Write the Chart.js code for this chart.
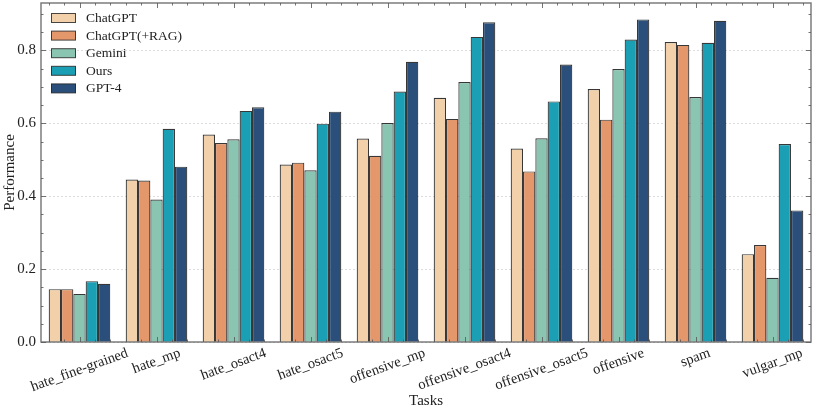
<!DOCTYPE html>
<html>
<head>
<meta charset="utf-8">
<script src="https://cdn.jsdelivr.net/npm/chart.js@4.4.1/dist/chart.umd.min.js"></script>
<style>
  html, body { margin: 0; padding: 0; background: #fff; }
  #wrap { width: 813px; height: 413px; }
</style>
</head>
<body>
<div id="wrap"><canvas id="myChart"></canvas></div>
<script>
// data
const tasks = ["hate_fine-grained", "hate_mp", "hate_osact4", "hate_osact5", "offensive_mp",
  "offensive_osact4", "offensive_osact5", "offensive", "spam", "vulgar_mp"];
const chatgpt    = [0.145, 0.446, 0.569, 0.487, 0.558, 0.670, 0.531, 0.694, 0.823, 0.241];
const chatgptRag = [0.145, 0.443, 0.546, 0.492, 0.511, 0.612, 0.468, 0.610, 0.815, 0.266];
const gemini     = [0.132, 0.391, 0.556, 0.471, 0.601, 0.713, 0.559, 0.749, 0.672, 0.176];
const ours       = [0.167, 0.585, 0.634, 0.599, 0.687, 0.837, 0.660, 0.830, 0.821, 0.543];
const gpt4       = [0.160, 0.481, 0.644, 0.632, 0.769, 0.877, 0.761, 0.885, 0.881, 0.361];
const yTicks = [0, 0.2, 0.4, 0.6, 0.8];

const FONT = "'Liberation Serif', 'DejaVu Serif', serif";
const AXIS_GREY = "rgba(90,90,90,0.85)";

function bars(label, data, color) {
  return {
    label: label,
    data: data,
    backgroundColor: color,
    borderColor: "rgba(20,20,20,0.85)",
    borderWidth: 1.2,
    borderSkipped: "bottom",
    categoryPercentage: 0.8,
    barPercentage: 1.0,
  };
}

// frame, inward ticks, rotated task labels, axis titles, legend
const decorations = {
  id: "decorations",
  afterDraw(chart) {
    const ctx = chart.ctx;
    const a = chart.chartArea;
    const xs = chart.scales.x;
    const ys = chart.scales.y;
    ctx.save();

    // ticks on all four sides
    ctx.strokeStyle = AXIS_GREY;
    ctx.lineWidth = 1;
    ctx.beginPath();
    for (let i = -2; i <= tasks.length * 5 - 3; i++) {
      const v = i / 5;
      const x = Math.round(xs.getPixelForValue(v)) + 0.5;
      const len = i % 5 === 0 ? 5 : 2.5;
      ctx.moveTo(x, a.bottom); ctx.lineTo(x, a.bottom - len);
      ctx.moveTo(x, a.top); ctx.lineTo(x, a.top + len);
    }
    for (let v = 0; v <= ys.max + 1e-9; v += 0.05) {
      const y = Math.round(ys.getPixelForValue(v)) + 0.5;
      const major = Math.abs(v / 0.2 - Math.round(v / 0.2)) < 1e-6;
      const len = major ? 5 : 2.5;
      ctx.moveTo(a.left, y); ctx.lineTo(a.left + len, y);
      ctx.moveTo(a.right, y); ctx.lineTo(a.right - len, y);
    }
    ctx.stroke();

    // frame
    ctx.lineWidth = 1.4;
    ctx.strokeRect(a.left, a.top, a.right - a.left, a.bottom - a.top);

    // task labels, rotated 20 degrees, centred on the tick
    ctx.fillStyle = "#222";
    ctx.font = "14.5px " + FONT;
    ctx.textAlign = "center";
    ctx.textBaseline = "middle";
    const ang = 20 * Math.PI / 180;
    tasks.forEach((t, i) => {
      const x = xs.getPixelForValue(i);
      const w = ctx.measureText(t).width;
      const h = 12;
      const bh = w * Math.sin(ang) + h * Math.cos(ang);
      const cy = a.bottom + 5 + bh / 2;
      ctx.save();
      ctx.translate(x, cy);
      ctx.rotate(-ang);
      ctx.fillText(t, 0, 0);
      ctx.restore();
    });

    // axis titles
    ctx.font = "15px " + FONT;
    ctx.fillText("Tasks", (a.left + a.right) / 2, 401);
    ctx.save();
    ctx.translate(10, (a.top + a.bottom) / 2);
    ctx.rotate(-Math.PI / 2);
    ctx.fillText("Performance", 0, 0);
    ctx.restore();

    // legend, upper left inside the axes
    ctx.font = "13.5px " + FONT;
    ctx.textAlign = "left";
    chart.data.datasets.forEach((ds, i) => {
      const cy = 18 + i * 17.6;
      ctx.fillStyle = ds.backgroundColor;
      ctx.fillRect(51, cy - 4.5, 25, 9);
      ctx.strokeStyle = "rgba(40,40,40,0.85)";
      ctx.lineWidth = 1;
      ctx.strokeRect(51.5, cy - 4.5, 24, 9);
      ctx.fillStyle = "#222";
      ctx.fillText(ds.label, 86, cy + 0.5);
    });

    ctx.restore();
  },
};

chart = new Chart(document.getElementById("myChart").getContext("2d"), {
  type: "bar",
  data: {
    labels: tasks,
    datasets: [
      bars("ChatGPT", chatgpt, "#f1d0aa"),
      bars("ChatGPT(+RAG)", chatgptRag, "#e4976a"),
      bars("Gemini", gemini, "#89c5b1"),
      bars("Ours", ours, "#1b9fb4"),
      bars("GPT-4", gpt4, "#2a4f7b"),
    ],
  },
  options: {
    responsive: true,
    maintainAspectRatio: false,
    animation: false,
    layout: { padding: { left: 0, right: 2, top: 3, bottom: 0 } },
    plugins: {
      legend: { display: false },
      tooltip: { enabled: false },
    },
    scales: {
      x: {
        grid: { display: false },
        border: { display: false },
        ticks: { display: false },
        afterFit(s) { s.height = 71; s.paddingLeft = 0; s.paddingRight = 0; },
      },
      y: {
        min: 0,
        max: 0.93,
        afterFit(s) { s.width = 41; s.paddingTop = 0; s.paddingBottom = 0; },
        afterBuildTicks(s) { s.ticks = yTicks.map(v => ({ value: v })); },
        border: { display: false, dash: [2, 2] },
        grid: { color: "rgba(185,185,185,0.7)", lineWidth: 0.7, drawTicks: false },
        ticks: {
          padding: 5,
          color: "#222",
          font: { family: FONT, size: 15 },
          callback: v => v.toFixed(1),
        },
      },
    },
  },
  plugins: [decorations],
});
</script>
</body>
</html>
